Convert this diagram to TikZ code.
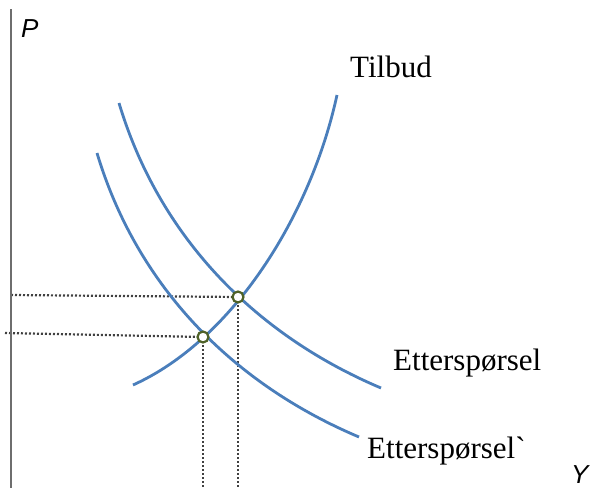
\documentclass[tikz,border=0pt]{standalone}
\usepackage{fontspec}
\setmainfont{Liberation Serif}
% plain family: keeps the grave accent as a real grave
\newfontfamily\labelfont{Liberation Serif}
\newfontfamily\axisfont{Liberation Sans}
\definecolor{curveblue}{HTML}{4A7EBB}
\definecolor{eqgreen}{HTML}{4F6228}
\definecolor{axisgray}{HTML}{6E6E6E}
\definecolor{guidegray}{HTML}{404040}
\pgfdeclarelayer{guides}
\pgfsetlayers{guides,main}
\tikzset{
  curve/.style={curveblue, line width=2.8pt},
  guide/.style={guidegray, line width=2.2pt, dash pattern=on 2pt off 2pt},
  eqpoint/.style={circle, draw=eqgreen, fill=white, line width=2.2pt, minimum size=11pt, inner sep=0pt},
  curvelabel/.style={anchor=base west, inner sep=0pt, font=\labelfont\fontsize{31}{36}\selectfont},
  axislabel/.style={anchor=base west, inner sep=0pt, font=\axisfont\itshape\fontsize{26}{30}\selectfont}
}
\begin{document}
\begin{tikzpicture}[x=1pt, y=-1pt]
  \useasboundingbox (0,0) rectangle (590,488);

  % price axis
  \draw[axisgray, line width=2.6pt] (11,9) -- (11,488);
  \node[axislabel] (plabel) at (21,37) {P};
  \node[axislabel] (ylabel) at (571,483) {Y};

  % supply
  \draw[curve] (133,385) .. controls (233,340) and (311,215) .. (337,95);
  % demand, before and after the shift
  \draw[curve] (119,103) .. controls (158,233) and (251,333) .. (381,388);
  \draw[curve] (97,153) .. controls (136,283) and (229,382) .. (359,437);

  % equilibria
  \node[eqpoint] (eqA) at (238,297) {};
  \node[eqpoint] (eqB) at (203,337) {};

  % guide lines to the axes, kept beneath the markers
  \coordinate (pA) at (11,295);
  \coordinate (pB) at (5,333);
  \coordinate (yA) at (238,488);
  \coordinate (yB) at (203,488);
  \begin{pgfonlayer}{guides}
    \draw[guide] (pA) -- (eqA.center);
    \draw[guide] (pB) -- (eqB.center);
    \draw[guide] (eqA.center) -- (yA);
    \draw[guide] (eqB.center) -- (yB);
  \end{pgfonlayer}

  % curve labels
  \node[curvelabel] (tilbud) at (350,77) {Tilbud};
  \node[curvelabel] (ett) at (393,370) {Etterspørsel};
  \node[curvelabel] (ett2) at (367,458) {Etterspørsel`};
\end{tikzpicture}
\end{document}
